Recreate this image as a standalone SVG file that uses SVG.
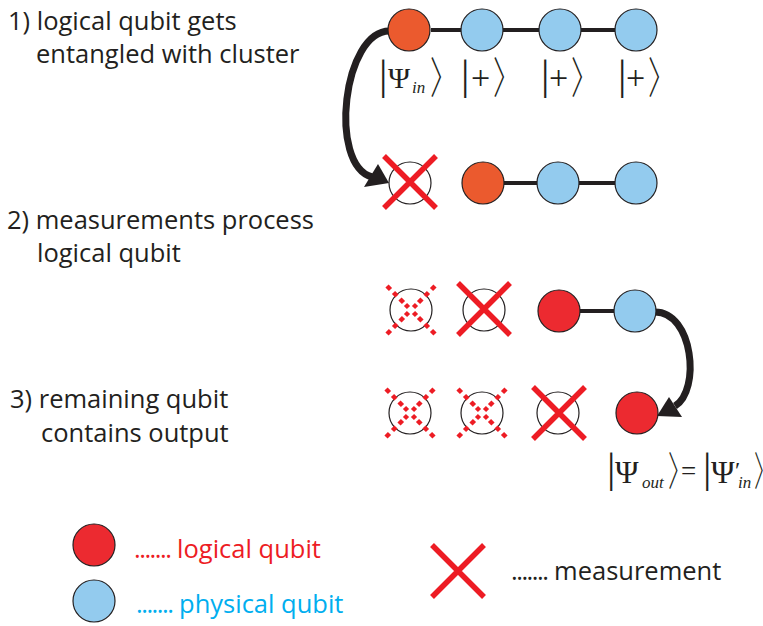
<svg xmlns="http://www.w3.org/2000/svg" width="763" height="626" viewBox="0 0 763 626">
<style>
.t{font-family:"Open Sans","Noto Sans",sans-serif;font-size:25.5px;fill:#231F20}
.lr{fill:#ED1C24}
.lb{fill:#00AEEF}
.dots{letter-spacing:-1.5px}
.m{font-family:"Liberation Serif","DejaVu Serif",serif;fill:#231F20}
.br{font-size:42px}
.psi{font-size:30px}
.pl{font-size:34px}
.sub{font-size:17px;font-style:italic}
.ang{font-family:"Noto Sans CJK JP","Noto Sans CJK SC",sans-serif;font-size:40px;font-weight:300;fill:#231F20}
.q{stroke:#231F20;stroke-width:1.2}
.or{fill:#EB5A2E}
.rd{fill:#EC2A30}
.bl{fill:#93CBEE}
.em{fill:#FFFFFF}
.edge{stroke:#231F20;stroke-width:4;fill:none}
.arr{stroke:#231F20;stroke-width:7;fill:none}
.ah{fill:#231F20}
.x{stroke:#ED1C24;stroke-width:5.5;fill:none}
.fx{stroke:#ED1C24;stroke-width:4.5;fill:none}
</style>
<defs>
<path id="mx" class="x" d="M-26,-26 L26,26 M26,-26 L-26,26"/>
<path id="fx" class="fx" d="M-24,-24 L-20.5,-20.5 M-17.5,-17.5 L-14,-14 M-11,-11 L-7.5,-7.5 M-5.5,-5.5 L-2.5,-2.5 M2.5,2.5 L5.5,5.5 M7.5,7.5 L11,11 M14,14 L17.5,17.5 M20.5,20.5 L24,24 M24,-24 L20.5,-20.5 M17.5,-17.5 L14,-14 M11,-11 L7.5,-7.5 M5.5,-5.5 L2.5,-2.5 M-2.5,2.5 L-5.5,5.5 M-7.5,7.5 L-11,11 M-14,14 L-17.5,17.5 M-20.5,20.5 L-24,24"/>
</defs>

<g id="labels">
<text class="t" x="8" y="30">1) logical qubit gets</text>
<text class="t" x="36" y="63">entangled with cluster</text>
<text class="t" x="7" y="229">2) measurements process</text>
<text class="t" x="37" y="262">logical qubit</text>
<text class="t" x="10" y="408">3) remaining qubit</text>
<text class="t" x="41" y="442">contains output</text>
</g>

<g id="connectors">
<line class="edge" x1="431" y1="30" x2="461" y2="30"/>
<line class="edge" x1="503" y1="30" x2="539" y2="30"/>
<line class="edge" x1="581" y1="30" x2="615" y2="30"/>
<line class="edge" x1="504" y1="183" x2="537" y2="183"/>
<line class="edge" x1="579" y1="183" x2="615" y2="183"/>
<line class="edge" x1="580" y1="311" x2="614" y2="311"/>
<path class="arr" d="M390,31 C343,30 328,165 372,177"/>
<polygon class="ah" points="389,183 364,187 378,164"/>
<path class="arr" d="M655,312 C693,312 701,390 675,406"/>
<polygon class="ah" points="657,416 669,397 682,417"/>
</g>

<g id="row1">
<g id="r1q1"><circle class="q or" cx="409" cy="30" r="21"/></g>
<g id="r1q2"><circle class="q bl" cx="482" cy="30" r="21"/></g>
<g id="r1q3"><circle class="q bl" cx="560" cy="30" r="21"/></g>
<g id="r1q4"><circle class="q bl" cx="636" cy="30" r="21"/></g>
<g id="ket1"><text class="m"><tspan class="br" x="379" y="89">|</tspan><tspan class="psi" x="388" y="88">Ψ</tspan><tspan class="sub" x="412" y="93">in</tspan></text><text class="ang" transform="translate(430,94) scale(0.7,1.08)">〉</text></g>
<g id="ket2"><text class="m"><tspan class="br" x="461" y="89">|</tspan><tspan class="pl" x="471" y="89">+</tspan></text><text class="ang" transform="translate(493,94) scale(0.7,1.08)">〉</text></g>
<g id="ket3"><text class="m"><tspan class="br" x="541" y="89">|</tspan><tspan class="pl" x="549" y="89">+</tspan></text><text class="ang" transform="translate(571,94) scale(0.7,1.08)">〉</text></g>
<g id="ket4"><text class="m"><tspan class="br" x="618" y="89">|</tspan><tspan class="pl" x="626" y="89">+</tspan></text><text class="ang" transform="translate(648,94) scale(0.7,1.08)">〉</text></g>
</g>

<g id="row2">
<g id="r2q1"><circle class="q em" cx="410" cy="183" r="21"/><use href="#mx" x="410" y="182"/></g>
<g id="r2q2"><circle class="q or" cx="483" cy="183" r="21"/></g>
<g id="r2q3"><circle class="q bl" cx="558" cy="183" r="21"/></g>
<g id="r2q4"><circle class="q bl" cx="636" cy="183" r="21"/></g>
</g>

<g id="row3">
<g id="r3q1"><circle class="q em" cx="411" cy="310" r="21"/><use href="#fx" x="411" y="310"/></g>
<g id="r3q2"><circle class="q em" cx="484" cy="310" r="21"/><use href="#mx" x="484" y="309"/></g>
<g id="r3q3"><circle class="q rd" cx="559" cy="311" r="21"/></g>
<g id="r3q4"><circle class="q bl" cx="635" cy="311" r="21"/></g>
</g>

<g id="row4">
<g id="r4q1"><circle class="q em" cx="410" cy="413" r="21"/><use href="#fx" x="410" y="413"/></g>
<g id="r4q2"><circle class="q em" cx="482" cy="413" r="21"/><use href="#fx" x="482" y="413"/></g>
<g id="r4q3"><circle class="q em" cx="558" cy="413" r="21"/><use href="#mx" x="559" y="413"/></g>
<g id="r4q4"><circle class="q rd" cx="637" cy="413" r="21"/></g>
<g id="ketout"><text class="m"><tspan class="br" x="607" y="482">|</tspan><tspan class="psi" x="615" y="483" style="font-size:32px">Ψ</tspan><tspan class="sub" x="642" y="488">out</tspan></text><text class="ang" transform="translate(668,486) scale(0.6,1)">〉</text><text class="m" x="681" y="480" style="font-size:27px">=</text><text class="m"><tspan class="br" x="703" y="482">|</tspan><tspan class="psi" x="711" y="483" style="font-size:32px">Ψ</tspan><tspan x="735" y="478" style="font-size:24px">′</tspan><tspan class="sub" x="738" y="488">in</tspan></text><text class="ang" transform="translate(754,486) scale(0.55,1)">〉</text></g>
</g>

<g id="legend">
<g id="leg-logical"><circle class="q rd" cx="94" cy="545" r="21"/><text class="t lr" x="134" y="558"><tspan class="dots">.......</tspan> logical qubit</text></g>
<g id="leg-physical"><circle class="q bl" cx="94" cy="601" r="21"/><text class="t lb" x="136" y="613"><tspan class="dots">.......</tspan> physical qubit</text></g>
<g id="leg-measure"><use href="#mx" x="458" y="571"/><text class="t" x="511" y="580"><tspan class="dots">.......</tspan> measurement</text></g>
</g>
</svg>
